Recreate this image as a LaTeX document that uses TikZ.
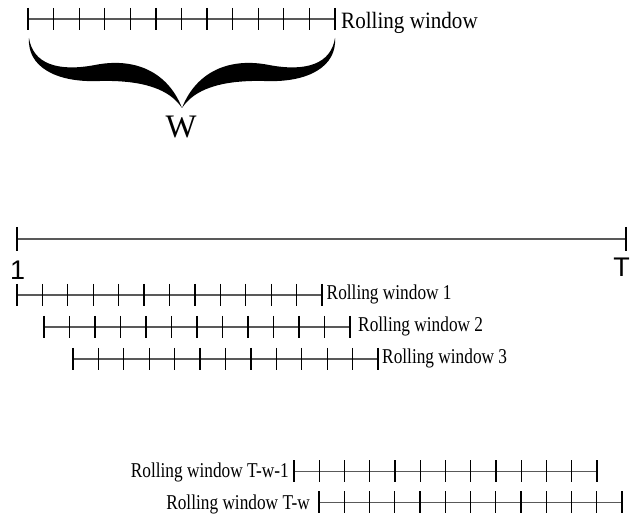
\documentclass[tikz,border=0pt]{standalone}
\usepackage{graphicx}
\usepackage{fontspec}
\setmainfont{Liberation Serif}
\newfontfamily\endfont{Liberation Sans}
\usepackage{tikz}
\usetikzlibrary{
    positioning,
    calc
}
\tikzset{
    barline/.style={
        line width=1pt,
        draw=black!65
    },
    tickmark/.style={
        line width=1pt,
        draw=black
    },
    winlab/.style={
        inner sep=0pt,
        anchor=base west,
        font=\fontsize{18}{20}\selectfont
    },
    winlabl/.style={
        inner sep=0pt,
        anchor=base east,
        font=\fontsize{18}{20}\selectfont
    },
    endlab/.style={
        inner sep=0pt,
        anchor=base,
        font=\endfont\fontsize{23}{25}\selectfont
    }
}
% one window: start x, y, length, name
\newcommand{\rollbar}[4]{%
    \coordinate (#4s) at (#1,#2);
    \coordinate (#4e) at ({#1+#3},#2);
    \draw[barline] (#4s) -- (#4e);
    \foreach \k in {0,...,12}
        \draw[tickmark] ({#1+\k*#3/12},{#2-11}) -- ++(0,22);
}
\newcommand{\narrow}[1]{\scalebox{0.82}[1]{#1}}

\begin{document}
\begin{tikzpicture}[
    x=0.03cm,
    y=-0.03cm,
    bracefill/.style={
        fill=black
    }
]
\useasboundingbox (0,0) rectangle (630,516);

% window of width w
\rollbar{28}{19}{307}{top}
\node[winlab, font=\fontsize{20}{22}\selectfont] (toplab) at ($(tope)+(6,9.3)$) {\scalebox{0.9}[1]{Rolling window}};

\coordinate (tip) at (182,108);
\fill[bracefill] (29,38) .. controls (33,64) and (58,72) .. (95,65)
    .. controls (135,57) and (168,72) .. (tip)
    .. controls (170,90) and (145,80) .. (100,81)
    .. controls (55,83) and (27,66) .. (29,38) -- cycle;
\fill[bracefill] (335,38) .. controls (331,64) and (306,72) .. (269,65)
    .. controls (229,57) and (196,72) .. (tip)
    .. controls (194,90) and (219,80) .. (264,81)
    .. controls (309,83) and (337,66) .. (335,38) -- cycle;
\node[inner sep=0pt, anchor=base, font=\fontsize{28}{30}\selectfont] (wlab) at ($(tip)+(-1,30)$) {W};

% full sample
\coordinate (mains) at (17,239);
\coordinate (maine) at (626,239);
\draw[barline] (mains) -- (maine);
\draw[tickmark] ($(mains)+(0,-12)$) -- ($(mains)+(0,12)$);
\draw[tickmark] ($(maine)+(0,-12)$) -- ($(maine)+(0,12)$);
\node[endlab] (one) at ($(mains)+(0.5,41)$) {1};
\node[endlab] (tend) at ($(maine)+(-4.5,38)$) {T};

% rolling windows
\rollbar{17}{295}{305}{winone}
\node[winlab] (labone) at ($(winonee)+(4.5,4.5)$) {\narrow{Rolling window 1}};
\rollbar{44}{327}{306}{wintwo}
\node[winlab] (labtwo) at ($(wintwoe)+(8,4.7)$) {\narrow{Rolling window 2}};
\rollbar{73}{359}{305}{winthree}
\node[winlab] (labthree) at ($(winthreee)+(4,4.3)$) {\narrow{Rolling window 3}};
\rollbar{294}{471.5}{303}{winlast}
\node[winlabl] (lablast) at ($(winlasts)+(-5,5.6)$) {\narrow{Rolling window T-w-1}};
\rollbar{319}{502.5}{303}{winfinal}
\node[winlabl] (labfinal) at ($(winfinals)+(-9,7.2)$) {\narrow{Rolling window T-w}};

\end{tikzpicture}
\end{document}
